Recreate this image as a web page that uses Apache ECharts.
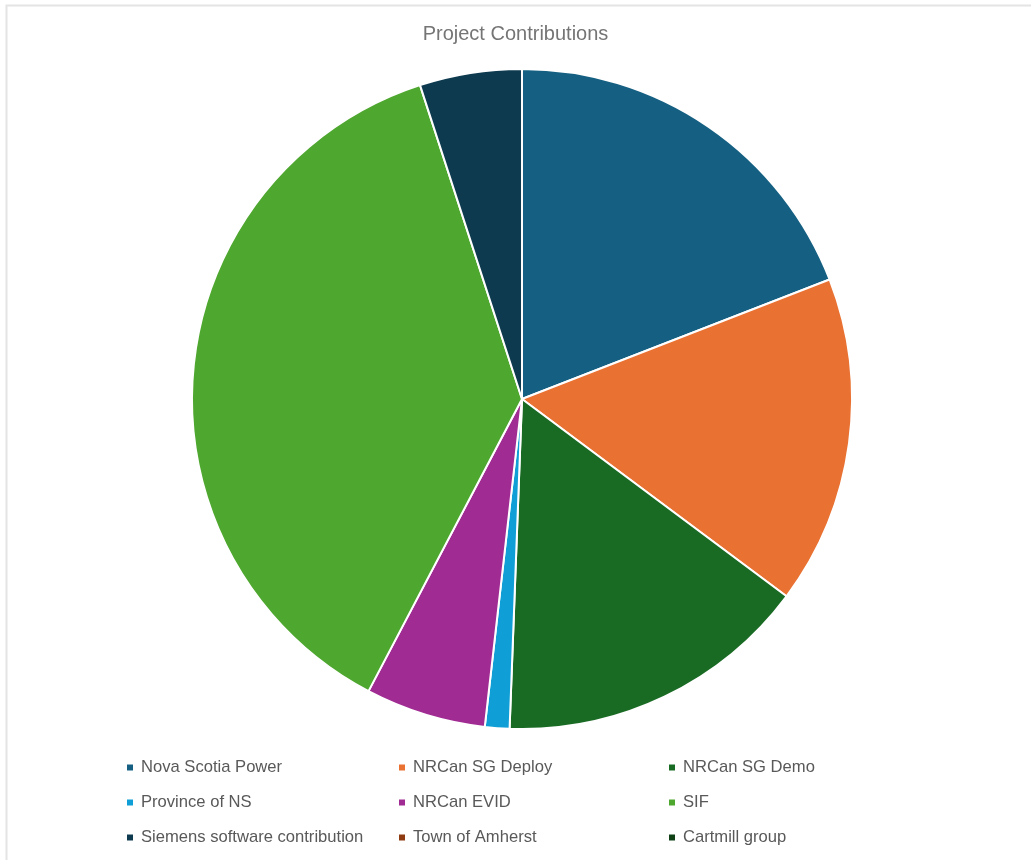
<!DOCTYPE html>
<html>
<head>
<meta charset="utf-8">
<script src="https://cdn.jsdelivr.net/npm/echarts@6/dist/echarts.min.js"></script>
<style>html,body{margin:0;padding:0;background:#fff;}#chart{width:1031px;height:860px;}</style>
</head>
<body>
<div id="chart"></div>
<script>
const categories = ["Nova Scotia Power","NRCan SG Deploy","NRCan SG Demo","Province of NS","NRCan EVID","SIF","Siemens software contribution","Town of Amherst","Cartmill group"];
const values = [19.1, 16.1, 15.4, 1.2, 5.9, 37.3, 5.0, 0, 0];
const colors = ["#156082","#E97132","#196B24","#0F9ED5","#A02B93","#4EA72E","#0E3A50","#8F3B11","#0F4016"];
const titleText = "Project Contributions";

const chart = echarts.init(document.getElementById('chart'), null, {renderer:'canvas'});
const legendCols = [[0,3,6],[1,4,7],[2,5,8]];
const legendX = [125, 397, 667];
const legends = legendCols.map((idx, c) => ({
  orient: 'vertical',
  left: legendX[c],
  top: 759,
  padding: 0,
  itemGap: 18,
  icon: 'rect',
  itemWidth: 8,
  itemHeight: 8,
  selectedMode: false,
  data: idx.map(i => categories[i]),
  textStyle: {color:'#595959', fontSize:16.6, fontFamily:'Liberation Sans, Arial, sans-serif', padding:[0,0,0,2]}
}));
chart.setOption({
  animation: false,
  color: colors,
  title: {text: titleText, left: 'center', top: 19, textStyle:{color:'#757575', fontSize:20, fontWeight:'normal', fontFamily:'Liberation Sans, Arial, sans-serif'}},
  legend: legends,
  graphic: [{type:'rect', shape:{x:6.5,y:5.5,width:1100,height:1000}, style:{fill:'none', stroke:'#e4e4e4', lineWidth:2}, silent:true, z:-1}],
  series: [{
    type: 'pie',
    center: [522, 399],
    radius: [0, 330],
    startAngle: 90,
    clockwise: true,
    label: {show:false},
    labelLine: {show:false},
    emphasis: {disabled:true},
    itemStyle: {borderColor:'#fff', borderWidth:2},
    data: categories.map((n,i) => ({name:n, value:values[i]}))
  }]
});
</script>
</body>
</html>
